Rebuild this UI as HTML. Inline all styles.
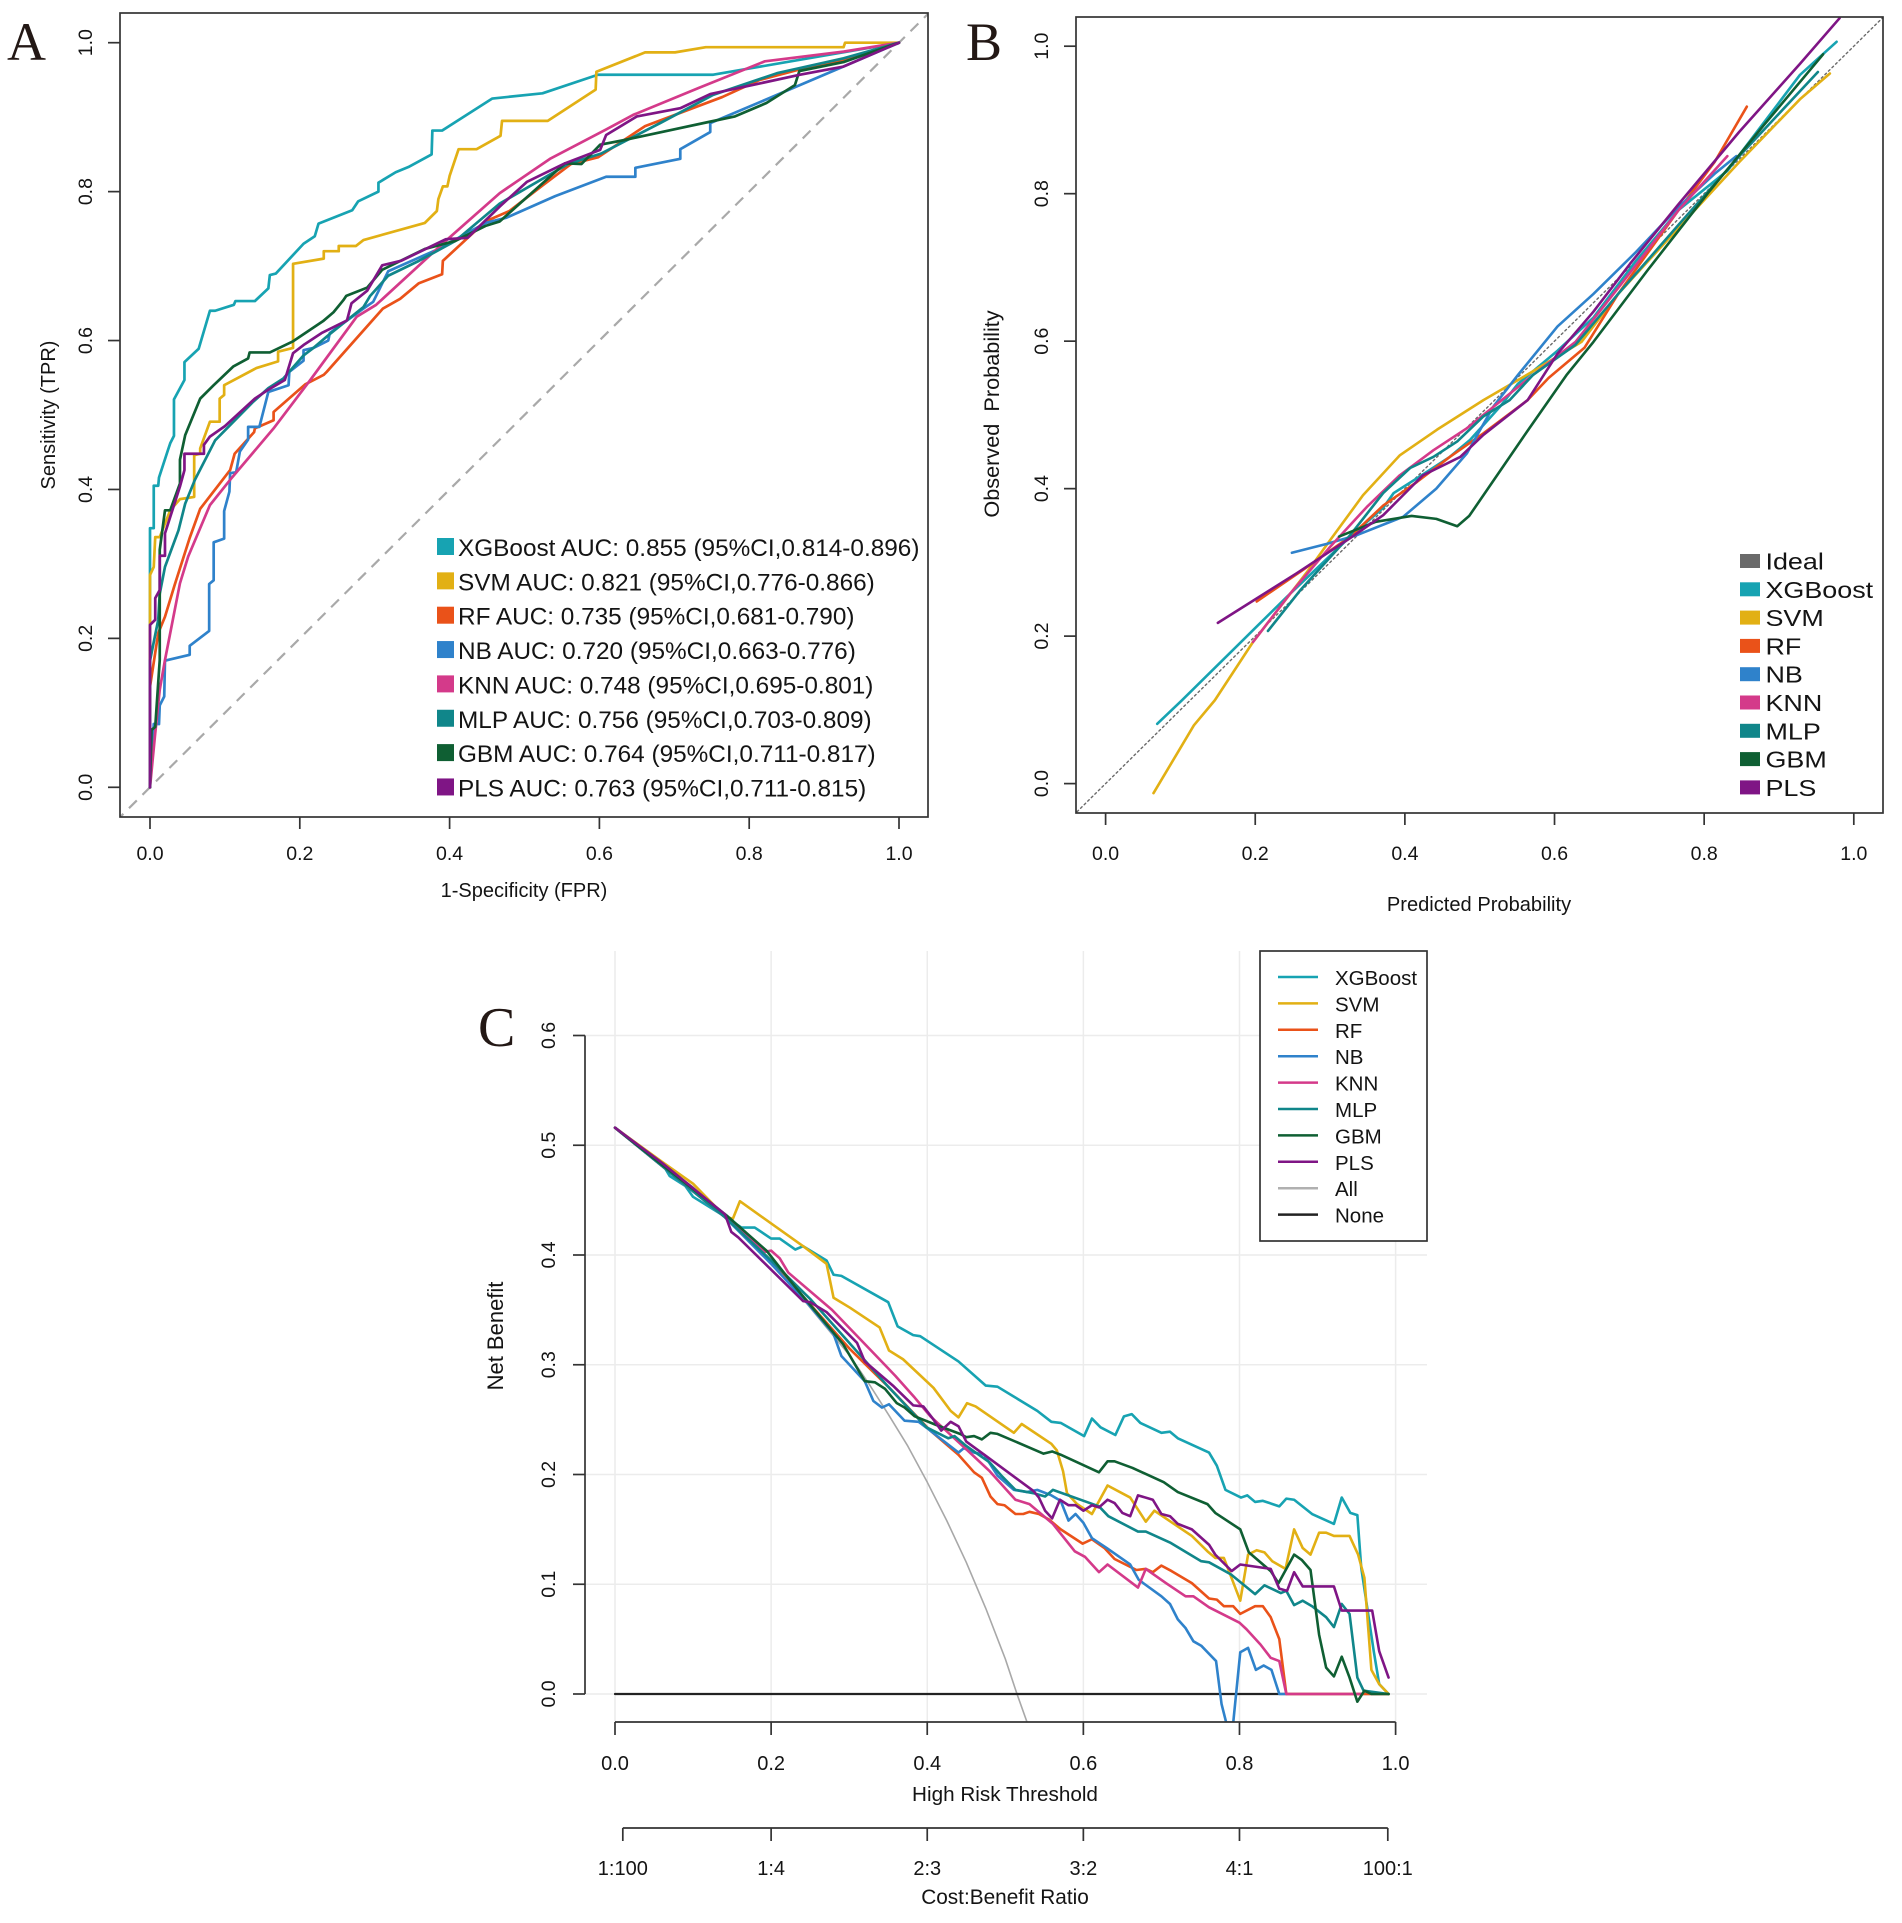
<!DOCTYPE html>
<html lang="en">
<head>
<meta charset="utf-8">
<title>Model comparison: ROC, calibration and decision curves</title>
<style>
html,body{margin:0;padding:0;background:#fff;}
svg{display:block;}
text{font-family:"Liberation Sans",sans-serif;fill:#141414;}
.panel-letter{font-family:"Liberation Serif",serif;fill:#231815;}
</style>
</head>
<body>
<svg id="figure" xmlns="http://www.w3.org/2000/svg" width="1902" height="1923" viewBox="0 0 1902 1923">
<defs>
<clipPath id="clip-a"><rect x="120" y="13" width="808" height="804"/></clipPath>
<clipPath id="clip-b"><rect x="1076" y="17" width="807" height="796"/></clipPath>
<clipPath id="clip-c"><rect x="585" y="951" width="845" height="771"/></clipPath>
</defs>
<rect x="0" y="0" width="1902" height="1923" fill="#fff"/>
<text class="panel-letter" x="7" y="60" font-size="54">A</text>
<text class="panel-letter" x="966" y="60" font-size="54">B</text>
<text class="panel-letter" x="478" y="1046" font-size="56">C</text>
</svg>
<script>
// ---------- shared categories ----------
const modelNames = ['XGBoost','SVM','RF','NB','KNN','MLP','GBM','PLS'];
const modelColors = ['#17a3b2','#e2b014','#ea5219','#2f82cb','#d43a8a','#10868a','#0f5f33','#7f1585'];

// ---------- panel A: ROC curves, [FPR, TPR] ----------
const rocXGBoost = [[0,0],[0,.348],[.005,.348],[.005,.405],[.011,.405],[.012,.416],[.024,.453],[.027,.462],[.032,.472],[.032,.521],[.046,.547],[.046,.571],[.065,.589],[.08,.64],[.087,.64],[.112,.648],[.114,.653],[.14,.653],[.158,.67],[.16,.688],[.168,.69],[.205,.73],[.22,.74],[.225,.757],[.27,.775],[.278,.787],[.305,.8],[.305,.812],[.328,.826],[.345,.833],[.376,.85],[.377,.882],[.39,.882],[.457,.925],[.524,.932],[.598,.957],[.752,.957],[1,1]];
const rocSVM = [[0,0],[0,.285],[.005,.296],[.007,.336],[.013,.336],[.027,.372],[.04,.387],[.059,.39],[.059,.446],[.067,.448],[.067,.455],[.08,.491],[.093,.491],[.093,.522],[.099,.527],[.099,.54],[.142,.563],[.171,.572],[.171,.585],[.191,.59],[.191,.703],[.232,.71],[.232,.72],[.252,.72],[.252,.727],[.275,.727],[.285,.735],[.367,.758],[.383,.774],[.385,.79],[.391,.807],[.397,.807],[.4,.821],[.412,.857],[.436,.857],[.468,.875],[.47,.895],[.531,.895],[.595,.937],[.596,.961],[.661,.987],[.701,.987],[.742,.994],[.926,.994],[.928,1],[1,1]];
const rocRF = [[0,0],[0,.135],[.011,.207],[.02,.229],[.033,.272],[.053,.335],[.067,.374],[.107,.426],[.113,.448],[.139,.477],[.14,.482],[.165,.493],[.165,.504],[.207,.541],[.232,.554],[.236,.558],[.311,.643],[.334,.656],[.359,.677],[.39,.689],[.391,.707],[.448,.76],[.48,.774],[.525,.809],[.562,.837],[.598,.846],[.661,.888],[.764,.927],[.814,.95],[.878,.967],[.926,.977],[1,1]];
const rocNB = [[0,0],[.005,.085],[.012,.085],[.013,.11],[.019,.122],[.02,.17],[.024,.171],[.053,.178],[.053,.19],[.079,.21],[.079,.273],[.085,.278],[.085,.329],[.099,.334],[.099,.371],[.106,.397],[.107,.422],[.115,.423],[.12,.451],[.131,.467],[.131,.484],[.146,.484],[.158,.531],[.185,.54],[.186,.558],[.205,.573],[.205,.587],[.218,.59],[.238,.6],[.24,.61],[.285,.643],[.298,.652],[.318,.693],[.383,.722],[.448,.758],[.476,.765],[.541,.794],[.609,.82],[.648,.82],[.648,.832],[.708,.844],[.708,.857],[.748,.88],[.748,.892],[.828,.926],[.926,.968],[1,1]];
const rocKNN = [[0,0],[.007,.073],[.013,.131],[.02,.171],[.04,.274],[.051,.31],[.08,.379],[.107,.413],[.165,.482],[.214,.547],[.276,.632],[.302,.648],[.395,.734],[.467,.798],[.534,.844],[.61,.884],[.645,.903],[.732,.939],[.821,.975],[.926,.988],[1,1]];
const rocMLP = [[0,0],[0,.17],[.011,.225],[.013,.26],[.02,.296],[.038,.345],[.047,.381],[.06,.413],[.087,.466],[.138,.518],[.158,.536],[.178,.549],[.205,.58],[.218,.59],[.238,.607],[.285,.645],[.294,.66],[.318,.687],[.359,.707],[.408,.734],[.467,.784],[.558,.837],[.602,.851],[.681,.892],[.752,.93],[.837,.959],[.926,.979],[1,1]];
const rocGBM = [[0,0],[.002,.077],[.007,.081],[.013,.171],[.013,.319],[.02,.372],[.027,.372],[.04,.408],[.04,.44],[.047,.473],[.067,.522],[.085,.54],[.111,.565],[.131,.576],[.133,.584],[.16,.584],[.191,.599],[.231,.626],[.245,.638],[.258,.654],[.262,.66],[.29,.671],[.31,.695],[.367,.723],[.408,.734],[.448,.754],[.467,.76],[.554,.838],[.576,.837],[.601,.863],[.632,.869],[.748,.894],[.781,.901],[.823,.919],[.861,.943],[.867,.962],[.926,.974],[1,1]];
const rocPLS = [[0,0],[0,.218],[.007,.225],[.007,.254],[.013,.265],[.013,.311],[.02,.311],[.02,.341],[.04,.404],[.046,.426],[.046,.448],[.072,.448],[.072,.46],[.08,.471],[.1,.485],[.14,.522],[.158,.534],[.18,.547],[.191,.583],[.205,.594],[.229,.61],[.263,.627],[.269,.65],[.274,.654],[.29,.667],[.31,.701],[.335,.707],[.395,.736],[.424,.738],[.467,.78],[.503,.813],[.554,.838],[.601,.856],[.609,.876],[.65,.901],[.708,.912],[.748,.931],[.868,.957],[.926,.968],[1,1]];
const rocSeries = [rocXGBoost,rocSVM,rocRF,rocNB,rocKNN,rocMLP,rocGBM,rocPLS];
const rocLegendLabels = ['XGBoost AUC: 0.855 (95%CI,0.814-0.896)','SVM AUC: 0.821 (95%CI,0.776-0.866)','RF AUC: 0.735 (95%CI,0.681-0.790)','NB AUC: 0.720 (95%CI,0.663-0.776)','KNN AUC: 0.748 (95%CI,0.695-0.801)','MLP AUC: 0.756 (95%CI,0.703-0.809)','GBM AUC: 0.764 (95%CI,0.711-0.817)','PLS AUC: 0.763 (95%CI,0.711-0.815)'];
const unitTicks = [0,0.2,0.4,0.6,0.8,1];

// ---------- panel B: calibration curves, [predicted, observed] ----------
const calXGBoost = [[.069,.081],[.102,.113],[.197,.208],[.242,.253],[.327,.335],[.371,.374],[.385,.394],[.416,.414],[.46,.443],[.487,.466],[.527,.511],[.551,.542],[.604,.587],[.652,.632],[.709,.709],[.766,.778],[.831,.831],[.928,.961],[.977,1.006]];
const calSVM = [[.064,-.013],[.118,.079],[.146,.113],[.197,.192],[.273,.292],[.3,.33],[.344,.391],[.393,.445],[.443,.48],[.505,.52],[.571,.559],[.636,.599],[.685,.664],[.766,.754],[.847,.843],[.928,.928],[.968,.963]];
const calRF = [[.202,.247],[.264,.29],[.327,.335],[.371,.377],[.416,.409],[.46,.443],[.505,.475],[.564,.52],[.592,.55],[.64,.591],[.685,.664],[.766,.778],[.814,.843],[.857,.918]];
const calNB = [[.249,.313],[.295,.325],[.336,.337],[.398,.362],[.442,.4],[.483,.448],[.518,.511],[.551,.554],[.604,.62],[.652,.664],[.709,.721],[.766,.782],[.814,.827],[.843,.851]];
const calKNN = [[.197,.192],[.247,.258],[.3,.321],[.349,.375],[.393,.418],[.438,.452],[.483,.482],[.527,.518],[.571,.554],[.628,.599],[.685,.672],[.766,.778],[.831,.851]];
const calMLP = [[.217,.207],[.26,.262],[.327,.337],[.371,.394],[.407,.428],[.438,.443],[.47,.464],[.505,.498],[.54,.52],[.571,.554],[.628,.595],[.685,.664],[.766,.758],[.847,.851],[.952,.965]];
const calGBM = [[.312,.335],[.361,.355],[.409,.363],[.442,.359],[.47,.349],[.486,.363],[.563,.477],[.616,.554],[.652,.599],[.725,.697],[.806,.802],[.879,.892],[.959,.989]];
const calPLS = [[.15,.218],[.255,.285],[.327,.333],[.371,.364],[.424,.418],[.474,.443],[.505,.473],[.564,.52],[.604,.583],[.652,.64],[.701,.705],[.766,.786],[.847,.884],[.928,.976],[.981,1.038]];
const calSeries = [calXGBoost,calSVM,calRF,calNB,calKNN,calMLP,calGBM,calPLS];
const calLegendLabels = ['Ideal','XGBoost','SVM','RF','NB','KNN','MLP','GBM','PLS'];
const calLegendColors = ['#6a6a6a','#17a3b2','#e2b014','#ea5219','#2f82cb','#d43a8a','#10868a','#0f5f33','#7f1585'];
const idealLine = [[-0.1,-0.1],[1.1,1.1]];

// ---------- panel C: decision curves, [threshold, net benefit] ----------
const dcaXGBoost = [[0,.516],[.06,.484],[.07,.472],[.09,.463],[.1,.453],[.141,.435],[.162,.425],[.179,.425],[.2,.415],[.211,.415],[.231,.405],[.241,.408],[.271,.395],[.28,.382],[.29,.381],[.35,.357],[.362,.335],[.382,.327],[.391,.326],[.44,.303],[.475,.281],[.49,.28],[.541,.258],[.559,.248],[.571,.247],[.601,.235],[.611,.251],[.622,.243],[.641,.236],[.652,.253],[.662,.255],[.673,.247],[.7,.238],[.711,.239],[.721,.233],[.761,.22],[.771,.208],[.782,.186],[.802,.179],[.81,.181],[.82,.175],[.83,.176],[.851,.171],[.86,.178],[.87,.177],[.893,.164],[.921,.155],[.931,.179],[.942,.165],[.951,.163],[.956,.115],[.972,.039],[.979,.009],[.991,0]];
const dcaSVM = [[0,.516],[.06,.485],[.1,.465],[.141,.435],[.151,.433],[.16,.449],[.241,.408],[.271,.392],[.28,.361],[.301,.352],[.339,.334],[.351,.313],[.369,.305],[.408,.279],[.43,.258],[.44,.252],[.451,.265],[.462,.262],[.511,.238],[.521,.246],[.559,.228],[.566,.222],[.574,.203],[.579,.183],[.592,.173],[.611,.164],[.631,.19],[.66,.179],[.68,.157],[.691,.167],[.739,.144],[.759,.13],[.769,.124],[.78,.124],[.801,.085],[.811,.127],[.822,.131],[.832,.129],[.842,.121],[.859,.114],[.87,.15],[.881,.133],[.891,.127],[.902,.147],[.911,.147],[.921,.144],[.941,.144],[.952,.127],[.96,.106],[.969,.022],[.979,.009],[.991,0]];
const dcaRF = [[0,.516],[.14,.435],[.2,.395],[.25,.355],[.3,.315],[.35,.28],[.404,.24],[.44,.218],[.46,.202],[.47,.197],[.481,.18],[.49,.173],[.499,.172],[.513,.164],[.523,.164],[.531,.166],[.543,.164],[.556,.159],[.571,.15],[.599,.137],[.611,.141],[.627,.133],[.64,.123],[.668,.113],[.68,.114],[.689,.111],[.7,.117],[.713,.112],[.739,.101],[.761,.087],[.771,.086],[.78,.08],[.792,.08],[.801,.073],[.82,.08],[.83,.08],[.84,.07],[.851,.05],[.86,0],[.956,0],[.991,0]];
const dcaNB = [[0,.516],[.14,.435],[.2,.392],[.248,.355],[.28,.328],[.29,.308],[.32,.285],[.331,.267],[.342,.261],[.351,.264],[.371,.249],[.389,.248],[.402,.241],[.44,.22],[.447,.224],[.46,.22],[.473,.218],[.49,.199],[.511,.186],[.528,.184],[.541,.186],[.559,.181],[.571,.176],[.581,.158],[.59,.164],[.6,.156],[.611,.142],[.63,.133],[.66,.118],[.671,.104],[.7,.089],[.711,.082],[.721,.068],[.731,.06],[.741,.048],[.751,.044],[.77,.03],[.777,-.009],[.783,-.026],[.792,-.026],[.801,.038],[.811,.042],[.821,.022],[.831,.026],[.841,.022],[.851,0],[.86,0]];
const dcaKNN = [[0,.516],[.14,.435],[.193,.403],[.2,.404],[.211,.397],[.222,.384],[.278,.35],[.328,.313],[.359,.29],[.384,.27],[.404,.253],[.424,.24],[.45,.223],[.48,.203],[.513,.177],[.531,.173],[.561,.155],[.589,.13],[.602,.125],[.62,.111],[.631,.118],[.67,.097],[.68,.114],[.706,.101],[.731,.089],[.741,.089],[.761,.079],[.8,.065],[.809,.059],[.827,.045],[.84,.033],[.851,.03],[.86,0],[.956,0]];
const dcaMLP = [[0,.516],[.14,.435],[.2,.395],[.25,.36],[.3,.32],[.35,.28],[.399,.243],[.427,.233],[.435,.235],[.45,.226],[.48,.211],[.495,.199],[.513,.186],[.536,.183],[.551,.18],[.561,.186],[.62,.171],[.632,.162],[.67,.148],[.68,.148],[.711,.138],[.751,.121],[.761,.12],[.789,.109],[.82,.091],[.832,.099],[.853,.092],[.86,.094],[.87,.081],[.881,.085],[.893,.08],[.911,.07],[.921,.061],[.931,.082],[.941,.073],[.951,.015],[.959,.003],[.991,0]];
const dcaGBM = [[0,.516],[.143,.436],[.194,.404],[.233,.369],[.292,.319],[.32,.285],[.333,.284],[.346,.278],[.361,.265],[.371,.261],[.384,.253],[.412,.245],[.442,.237],[.45,.234],[.46,.235],[.47,.232],[.481,.238],[.49,.237],[.549,.219],[.56,.221],[.571,.218],[.62,.202],[.631,.212],[.64,.212],[.663,.206],[.703,.193],[.721,.184],[.759,.173],[.769,.165],[.801,.15],[.812,.129],[.84,.112],[.85,.101],[.87,.127],[.88,.122],[.891,.113],[.902,.054],[.911,.024],[.921,.016],[.931,.034],[.941,.015],[.951,-.007],[.96,.003],[.969,0],[.991,0]];
const dcaPLS = [[0,.516],[.06,.484],[.141,.437],[.149,.421],[.158,.416],[.241,.358],[.25,.357],[.271,.348],[.31,.32],[.32,.303],[.356,.281],[.382,.263],[.395,.262],[.406,.252],[.418,.24],[.43,.248],[.44,.244],[.45,.23],[.475,.217],[.536,.185],[.543,.179],[.551,.167],[.56,.16],[.57,.177],[.581,.172],[.59,.172],[.6,.167],[.611,.172],[.62,.17],[.631,.177],[.64,.174],[.65,.165],[.66,.162],[.67,.181],[.689,.177],[.7,.164],[.711,.162],[.721,.155],[.739,.15],[.761,.136],[.769,.127],[.79,.112],[.801,.118],[.84,.114],[.851,.096],[.861,.094],[.87,.111],[.881,.098],[.921,.098],[.931,.076],[.97,.076],[.979,.039],[.991,.015]];
const dcaAll = [[0,.516],[.1,.462],[.2,.395],[.3,.309],[.325,.283],[.35,.255],[.375,.226],[.4,.193],[.425,.158],[.45,.12],[.475,.078],[.5,.032],[.515,0],[.53,-.03]];
const dcaNone = [[0,0],[.99,0]];
const dcaSeries = [dcaXGBoost,dcaSVM,dcaRF,dcaNB,dcaKNN,dcaMLP,dcaGBM,dcaPLS];
const dcaLegendLabels = ['XGBoost','SVM','RF','NB','KNN','MLP','GBM','PLS','All','None'];
const dcaLegendColors = ['#17a3b2','#e2b014','#ea5219','#2f82cb','#d43a8a','#10868a','#0f5f33','#7f1585','#b0b0b0','#222222'];
const dcaYTicks = [0,0.1,0.2,0.3,0.4,0.5,0.6];
const costBenefitPositions = [0.01,0.2,0.4,0.6,0.8,0.99];
const costBenefitLabels = ['1:100','1:4','2:3','3:2','4:1','100:1'];

// ---------- axis functions ----------
const xA = v => 150 + v * 749;
const yA = v => 787.3 - v * 744.6;
const xB = v => 1105.6 + v * 748.2;
const yB = v => 783.6 - v * 737.4;
const xC = v => 615 + v * 780.6;
const yC = v => 1694 - v * 1097.5;

// ---------- drawing helpers ----------
const svg = document.getElementById('figure');
const NS = 'http://www.w3.org/2000/svg';
function make(tag, parent, attrs, content) {
  const node = document.createElementNS(NS, tag);
  for (const k in attrs) node.setAttribute(k, attrs[k]);
  if (content !== undefined) node.textContent = content;
  parent.appendChild(node);
  return node;
}
function drawSeries(parent, pts, fx, fy, color, width, name) {
  const path = make('polyline', parent, {
    points: pts.map(p => fx(p[0]).toFixed(2) + ',' + fy(p[1]).toFixed(2)).join(' '),
    fill: 'none', stroke: color, 'stroke-width': width, 'stroke-linejoin': 'round', 'stroke-linecap': 'round'
  });
  
  
  return path;
}
function drawXTicks(parent, values, labels, fx, axisY, tickLen, baseY, size, name) {
  values.forEach((v, i) => {
    const tick = make('line', parent, {x1: fx(v), x2: fx(v), y1: axisY, y2: axisY + tickLen, stroke: '#333', 'stroke-width': 1.7});
    
    
    const label = make('text', parent, {x: fx(v), y: baseY, 'font-size': size, 'text-anchor': 'middle'}, labels[i]);
    
    
  });
}
function drawYTicks(parent, values, fy, axisX, tickLen, baseX, size, name) {
  values.forEach(v => {
    const tick = make('line', parent, {x1: axisX - tickLen, x2: axisX, y1: fy(v), y2: fy(v), stroke: '#333', 'stroke-width': 1.7});
    
    
    const label = make('text', parent, {x: 0, y: 0, 'font-size': size, 'text-anchor': 'middle', transform: 'translate(' + baseX + ',' + fy(v) + ') rotate(-90)'}, v.toFixed(1));
    
    
  });
}
function drawTitle(parent, text, x, y, size, rotated, name) {
  const attrs = {'font-size': size, 'text-anchor': 'middle', 'xml:space': 'preserve'};
  if (rotated) { attrs.transform = 'translate(' + x + ',' + y + ') rotate(-90)'; attrs.x = 0; attrs.y = 0; }
  else { attrs.x = x; attrs.y = y; }
  const t = make('text', parent, attrs, text);
  t.style.whiteSpace = 'pre';
  
  
}
const unitLabels = unitTicks.map(v => v.toFixed(1));

// ---------- panel A ----------
const panelA = make('g', svg, {});


const plotA = make('g', panelA, {'clip-path': 'url(#clip-a)'});


const chance = make('line', plotA, {x1: xA(-0.1), y1: yA(-0.1), x2: xA(1.1), y2: yA(1.1), stroke: '#a9a9a9', 'stroke-width': 2.2, 'stroke-dasharray': '11 8'});


rocSeries.forEach((pts, i) => {
  drawSeries(plotA, pts, xA, yA, modelColors[i], 2.7, 'roc-curve-' + modelNames[i].toLowerCase());
});
const frameA = make('rect', panelA, {x: 120, y: 13, width: 808, height: 804, fill: 'none', stroke: '#333', 'stroke-width': 1.7});


drawXTicks(panelA, unitTicks, unitLabels, xA, 817, 12, 860, 19.5, 'roc-x-axis');
drawYTicks(panelA, unitTicks, yA, 120, 12, 92, 19.5, 'roc-y-axis');
drawTitle(panelA, '1-Specificity (FPR)', 524, 897, 20, false, 'roc-x-axis-title');
drawTitle(panelA, 'Sensitivity (TPR)', 55, 415, 20, true, 'roc-y-axis-title');
rocLegendLabels.forEach((label, i) => {
  const rowY = 547 + i * 34.35;
  const swatch = make('rect', panelA, {x: 437, y: rowY - 9, width: 17, height: 17, fill: modelColors[i]});
  
  
  const txt = make('text', panelA, {x: 458, y: rowY + 9, 'font-size': 24.35}, label);
  
  
});

// ---------- panel B ----------
const panelB = make('g', svg, {});


const plotB = make('g', panelB, {'clip-path': 'url(#clip-b)'});


const ideal = drawSeries(plotB, idealLine, xB, yB, '#6a6a6a', 1.4, 'calibration-ideal-line');
ideal.setAttribute('stroke-dasharray', '2 3');
calSeries.forEach((pts, i) => {
  drawSeries(plotB, pts, xB, yB, modelColors[i], 2.6, 'calibration-curve-' + modelNames[i].toLowerCase());
});
const frameB = make('rect', panelB, {x: 1076, y: 17, width: 807, height: 796, fill: 'none', stroke: '#333', 'stroke-width': 1.7});


drawXTicks(panelB, unitTicks, unitLabels, xB, 813, 12, 860, 19.5, 'calibration-x-axis');
drawYTicks(panelB, unitTicks, yB, 1076, 12, 1048, 19.5, 'calibration-y-axis');
drawTitle(panelB, 'Predicted Probability', 1479, 911, 20.1, false, 'calibration-x-axis-title');
drawTitle(panelB, 'Observed  Probability', 999, 414, 21.7, true, 'calibration-y-axis-title');
calLegendLabels.forEach((label, i) => {
  const rowY = 561 + i * 28.3;
  const swatch = make('rect', panelB, {x: 1740, y: rowY - 7, width: 20, height: 14, fill: calLegendColors[i]});
  
  
  const txt = make('text', panelB, {x: 0, y: 0, 'font-size': 23, transform: 'translate(1765.5,' + (rowY + 8.5) + ') scale(1.17,1)'}, label);
  
  
});

// ---------- panel C ----------
const panelC = make('g', svg, {});


unitTicks.forEach(v => {
  const g = make('line', panelC, {x1: xC(v), x2: xC(v), y1: 951, y2: 1722, stroke: '#ececec', 'stroke-width': 1.5});
  
  
});
dcaYTicks.forEach(v => {
  const g = make('line', panelC, {x1: 585, x2: 1427, y1: yC(v), y2: yC(v), stroke: '#ececec', 'stroke-width': 1.5});
  
  
});
const plotC = make('g', panelC, {'clip-path': 'url(#clip-c)'});


drawSeries(plotC, dcaAll, xC, yC, '#a8a8a8', 1.6, 'decision-curve-all');
drawSeries(plotC, dcaNone, xC, yC, '#222', 2.2, 'decision-curve-none');
dcaSeries.forEach((pts, i) => {
  drawSeries(plotC, pts, xC, yC, modelColors[i], 2.6, 'decision-curve-' + modelNames[i].toLowerCase());
});
const axisCY = make('line', panelC, {x1: 585, x2: 585, y1: yC(0), y2: yC(0.6), stroke: '#333', 'stroke-width': 1.7});


drawYTicks(panelC, dcaYTicks, yC, 585, 12, 555, 19.5, 'decision-y-axis');
const axisCX = make('line', panelC, {x1: xC(0), x2: xC(1), y1: 1722, y2: 1722, stroke: '#333', 'stroke-width': 1.7});


drawXTicks(panelC, unitTicks, unitLabels, xC, 1722, 13, 1770, 20, 'decision-x-axis');
drawTitle(panelC, 'High Risk Threshold', 1005, 1801, 20.7, false, 'decision-x-axis-title');
const axisCR = make('line', panelC, {x1: xC(costBenefitPositions[0]), x2: xC(costBenefitPositions[5]), y1: 1828, y2: 1828, stroke: '#333', 'stroke-width': 1.7});


drawXTicks(panelC, costBenefitPositions, costBenefitLabels, xC, 1828, 13, 1875, 20, 'cost-benefit-axis');
drawTitle(panelC, 'Cost:Benefit Ratio', 1005, 1904, 20.8, false, 'cost-benefit-axis-title');
drawTitle(panelC, 'Net Benefit', 503, 1336, 22, true, 'decision-y-axis-title');
const legendC = make('rect', panelC, {x: 1260, y: 951, width: 167, height: 290, fill: '#fff', stroke: '#333', 'stroke-width': 1.7});


dcaLegendLabels.forEach((label, i) => {
  const rowY = 977 + i * 26.4;
  const key = make('line', panelC, {x1: 1278, x2: 1318, y1: rowY, y2: rowY, stroke: dcaLegendColors[i], 'stroke-width': 2.5});
  
  
  const txt = make('text', panelC, {x: 1335, y: rowY + 8, 'font-size': 20.5}, label);
  
  
});
</script>
</body>
</html>
